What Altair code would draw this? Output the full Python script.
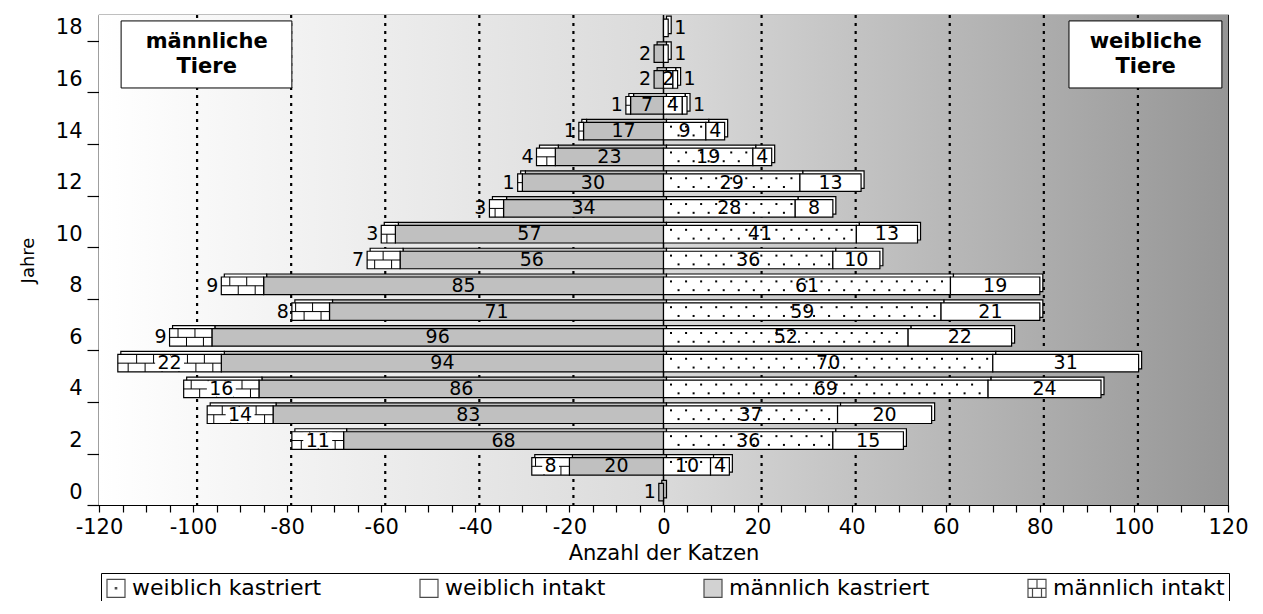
import altair as alt
import pandas as pd

FONT = "DejaVu Sans"

# ---- data -------------------------------------------------------------------
AGES = list(range(19))
MALE_INTAKT = [0, 8, 11, 14, 16, 22, 9, 8, 9, 7, 3, 3, 1, 4, 1, 1, 0, 0, 0]
MALE_KASTRIERT = [1, 20, 68, 83, 86, 94, 96, 71, 85, 56, 57, 34, 30, 23, 17, 7, 2, 2, 0]
FEMALE_KASTRIERT = [0, 10, 36, 37, 69, 70, 52, 59, 61, 36, 41, 28, 29, 19, 9, 4, 2, 1, 1]
FEMALE_INTAKT = [0, 4, 15, 20, 24, 31, 22, 21, 19, 10, 13, 8, 13, 4, 4, 1, 1, 0, 0]

CATS = ["weiblich kastriert", "weiblich intakt", "männlich kastriert", "männlich intakt"]
FILLS = ["#ffffff", "#ffffff", "#c0c0c0", "#ffffff"]
SHAPES = [
    "M-1,-1H1V1H-1Z M-0.08,-0.08H0.08V0.08H-0.08Z",
    "M-1,-1H1V1H-1Z",
    "M-1,-1H1V1H-1Z",
    "M-1,-1H1V1H-1Z M-1,0H1 M0,-1V0 M-0.5,0V1 M0.5,0V1",
]
X_TICKS = list(range(-120, 121, 5))
GRID = [-100, -80, -60, -40, -20, 20, 40, 60, 80, 100]
Y_LABELS = list(range(0, 19, 2))
BOX_LINES = [["männliche", "Tiere"], ["weibliche", "Tiere"]]

# ---- derived tables ----------------------------------------------------------
H = 0.34
rows = []
for a, mi, mk, fk, fi in zip(AGES, MALE_INTAKT, MALE_KASTRIERT, FEMALE_KASTRIERT, FEMALE_INTAKT):
    parts = [("männlich kastriert", -mk, 0, mk), ("männlich intakt", -mk - mi, -mk, mi),
             ("weiblich kastriert", 0, fk, fk), ("weiblich intakt", fk, fk + fi, fi)]
    for cat, x0, x1, v in parts:
        if v > 0:
            rows.append(dict(age=a, cat=cat, x0=x0, x1=x1, y0=a - H, y1=a + H, v=v))
seg = pd.DataFrame(rows)

lab_c, lab_l, lab_r, lab_bg = [], [], [], []
for r in seg.itertuples():
    mid = (r.x0 + r.x1) / 2
    if r.cat == "männlich intakt":
        if 1 <= r.age <= 5:
            lab_c.append(dict(x=mid, y=r.age, v=r.v))
            w = len(str(r.v)) * 0.636 * 19 / 4.7 / 2 + 0.5
            lab_bg.append(dict(x0=mid - w, x1=mid + w, y0=r.age - 0.3, y1=r.age + 0.3))
        else:
            lab_l.append(dict(x=r.x0, y=r.age, v=r.v))
    elif r.cat == "männlich kastriert":
        (lab_c if r.v >= 3 else lab_l).append(dict(x=mid if r.v >= 3 else r.x0, y=r.age, v=r.v))
    elif r.cat == "weiblich kastriert":
        (lab_c if r.v >= 2 else lab_r).append(dict(x=mid if r.v >= 2 else r.x1, y=r.age, v=r.v))
    else:
        (lab_c if r.v >= 3 else lab_r).append(dict(x=mid if r.v >= 3 else r.x1, y=r.age, v=r.v))

# dotted texture (weiblich kastriert) and brick texture (männlich intakt)
dots, brick_h, brick_v = [], [], []
for r in seg.itertuples():
    if r.cat == "weiblich kastriert" and r.v >= 3:
        x = 1.6
        while x < r.x1 - 0.8:
            dots.append(dict(x=x, y=r.age + 0.17))
            x += 3.2
        x = 3.2
        while x < r.x1 - 0.8:
            dots.append(dict(x=x, y=r.age - 0.17))
            x += 3.2
    if r.cat == "männlich intakt":
        brick_h.append(dict(x0=r.x0, x1=r.x1, y=r.age))
        x = r.x1 - 3.6
        while x > r.x0 + 0.6:
            brick_v.append(dict(x=x, y0=r.age, y1=r.age + H))
            x -= 3.6
        x = r.x1 - 1.8
        while x > r.x0 + 0.6:
            brick_v.append(dict(x=x, y0=r.age - H, y1=r.age))
            x -= 3.6

annot_box = pd.DataFrame([dict(x0=-115.3, x1=-79.0, y0=15.67, y1=18.27),
                          dict(x0=86.2, x1=118.7, y0=15.67, y1=18.27)])
annot_txt = pd.DataFrame([dict(x=-97.1, y=17.45, t=BOX_LINES[0][0]), dict(x=-97.1, y=16.48, t=BOX_LINES[0][1]),
                          dict(x=102.5, y=17.45, t=BOX_LINES[1][0]), dict(x=102.5, y=16.48, t=BOX_LINES[1][1])])

# ---- scales / encodings --------------------------------------------------------
XS = alt.Scale(domain=[-120, 120], nice=False, zero=False)
YS = alt.Scale(domain=[-0.5, 18.5], nice=False, zero=False)

XAXIS = alt.Axis(values=X_TICKS, labelExpr="datum.value % 20 === 0 ? '' + datum.value : ''",
                 title="Anzahl der Katzen", titleFontSize=21, titleFontWeight="normal",
                 labelFontSize=21, tickSize=7, labelPadding=4, titlePadding=5, grid=False,
                 labelFlush=False, labelOverlap=False, tickWidth=1.2, domainWidth=1.2)
YAXIS = alt.Axis(values=Y_LABELS, tickOffset=13, labelOffset=-13, tickSize=12, labelPadding=5,
                 labelFontSize=21, title="Jahre", titleFontSize=18, titleFontWeight="normal",
                 titlePadding=18, grid=False, tickWidth=1.2, domainWidth=1.2)

LEG = alt.Legend(title=None, orient="none", legendX=2, legendY=558, direction="horizontal",
                 columns=4, symbolSize=324, symbolStrokeColor="black", symbolStrokeWidth=1.2,
                 labelFontSize=22, labelFont=FONT, labelColor="black", strokeColor="black",
                 padding=4, columnPadding=95, labelOffset=5, labelLimit=0)
FILL = alt.Fill("cat:N", scale=alt.Scale(domain=CATS, range=FILLS), legend=LEG)


def xq(f):
    return alt.X(f, type="quantitative", scale=XS, axis=XAXIS)


def yq(f):
    return alt.Y(f, type="quantitative", scale=YS, axis=YAXIS)


bg = alt.Chart(pd.DataFrame({"x0": [-120], "x1": [120], "y0": [-0.5], "y1": [18.5]})).mark_rect(
    fill=alt.LinearGradient(gradient="linear", x1=0, x2=1, y1=0, y2=0,
                            stops=[alt.GradientStop(color="#ffffff", offset=0),
                                   alt.GradientStop(color="#dadada", offset=0.5),
                                   alt.GradientStop(color="#969696", offset=1)])
).encode(x=xq("x0"), x2="x1", y=yq("y0"), y2="y1")

grid = alt.Chart(pd.DataFrame({"g": GRID})).mark_rule(
    strokeDash=[3, 5], strokeWidth=2.2, color="black", xOffset=4).encode(x=xq("g"))
zero = alt.Chart(pd.DataFrame({"z": [0]})).mark_rule(color="black", strokeWidth=1.5).encode(x=xq("z"))

back = alt.Chart(seg).mark_rect(stroke="black", strokeWidth=1.2, xOffset=3, x2Offset=3,
                                yOffset=-3, y2Offset=-3).encode(
    x=xq("x0"), x2="x1", y=yq("y0"), y2="y1", fill=FILL)
front = alt.Chart(seg).mark_rect(stroke="black", strokeWidth=1.2).encode(
    x=xq("x0"), x2="x1", y=yq("y0"), y2="y1", fill=FILL)

dot_l = alt.Chart(pd.DataFrame(dots)).mark_square(size=4, color="black", opacity=1).encode(
    x=xq("x"), y=yq("y"))
bh = alt.Chart(pd.DataFrame(brick_h)).mark_rule(color="black", strokeWidth=1).encode(
    x=xq("x0"), x2="x1", y=yq("y"))
bv = alt.Chart(pd.DataFrame(brick_v)).mark_rule(color="black", strokeWidth=1).encode(
    x=xq("x"), y=yq("y0"), y2="y1")
lbg = alt.Chart(pd.DataFrame(lab_bg)).mark_rect(fill="white").encode(
    x=xq("x0"), x2="x1", y=yq("y0"), y2="y1")

tc = alt.Chart(pd.DataFrame(lab_c)).mark_text(font=FONT, fontSize=19, color="black", align="center",
                                              baseline="middle").encode(x=xq("x"), y=yq("y"), text="v:Q")
tl = alt.Chart(pd.DataFrame(lab_l)).mark_text(font=FONT, fontSize=19, color="black", align="right",
                                              baseline="middle", dx=-3).encode(x=xq("x"), y=yq("y"), text="v:Q")
tr = alt.Chart(pd.DataFrame(lab_r)).mark_text(font=FONT, fontSize=19, color="black", align="left",
                                              baseline="middle", dx=6).encode(x=xq("x"), y=yq("y"), text="v:Q")

abox = alt.Chart(annot_box).mark_rect(fill="white", stroke="black", strokeWidth=1).encode(
    x=xq("x0"), x2="x1", y=yq("y0"), y2="y1")
atxt = alt.Chart(annot_txt).mark_text(font=FONT, fontSize=21, fontWeight="bold", color="black",
                                      align="center", baseline="middle").encode(
    x=xq("x"), y=yq("y"), text="t:N")

leg = alt.Chart(seg).transform_filter("false").mark_point(
    filled=True, stroke="black", strokeWidth=1.2).encode(
    x=xq("x0"), y=yq("y0"), fill=FILL,
    shape=alt.Shape("cat:N", scale=alt.Scale(domain=CATS, range=SHAPES), legend=LEG))

chart = alt.layer(bg, grid, zero, back, front, dot_l, bh, bv, lbg, tc, tl, tr, abox, atxt, leg).properties(
    width=1129, height=490,
    autosize=alt.AutoSizeParams(type="none"),
    padding={"left": 91, "top": 7, "right": 27, "bottom": 96},
).configure_view(stroke="black", strokeWidth=1.2).configure_axis(
    labelFont=FONT, titleFont=FONT, labelColor="black", titleColor="black",
    domainColor="black", tickColor="black")

chart.save("out.html", embed_options={"renderer": "svg", "actions": False})
